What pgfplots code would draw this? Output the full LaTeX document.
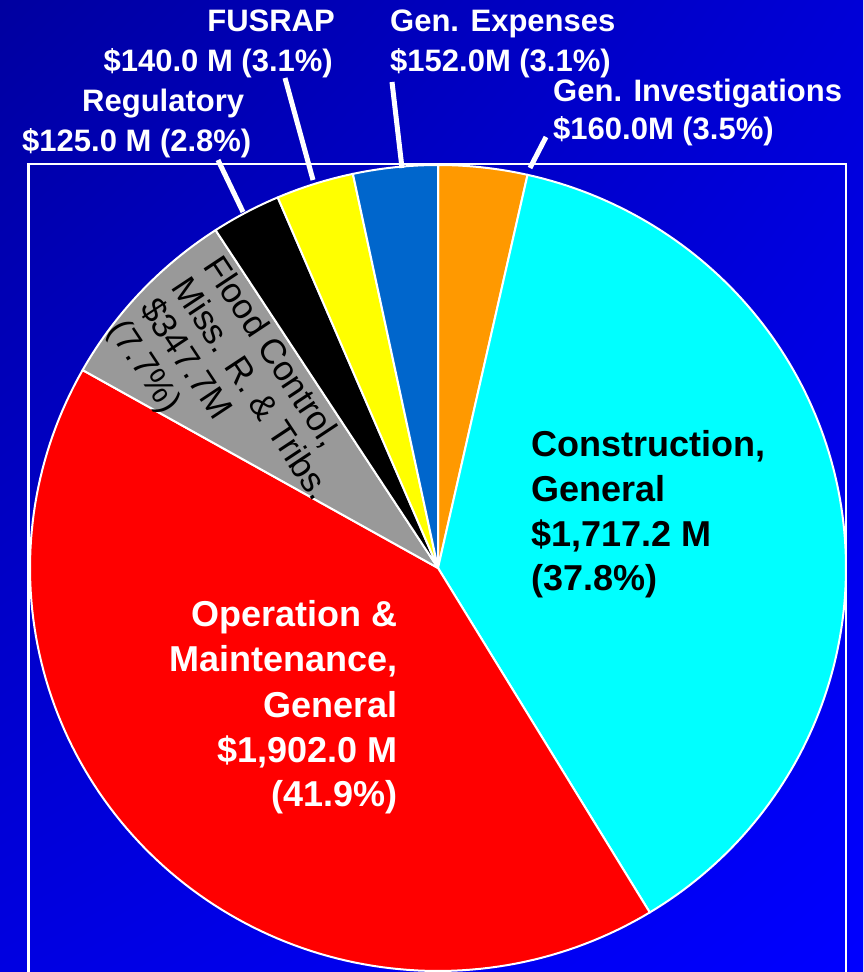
\documentclass[border=0pt]{standalone}
\usepackage{fontspec}
\setmainfont{Liberation Sans}
\usepackage{pgfplots}
\usepackage{pgfplotstable}
\usetikzlibrary{shadings}
\pgfplotsset{compat=1.18}

\definecolor{bgTL}{RGB}{0,0,160}
\definecolor{bgTR}{RGB}{0,0,215}
\definecolor{bgBL}{RGB}{0,0,225}
\definecolor{bgBR}{RGB}{0,0,255}
\definecolor{cOrange}{RGB}{255,153,0}
\definecolor{cCyan}{RGB}{0,255,255}
\definecolor{cRed}{RGB}{255,0,0}
\definecolor{cGray}{RGB}{153,153,153}
\definecolor{cBlack}{RGB}{0,0,0}
\definecolor{cYellow}{RGB}{255,255,0}
\definecolor{cBlue}{RGB}{0,102,204}

% budget items, clockwise from 12 o'clock (million $)
\pgfplotstableread{
name value
GenInvestigations 160.0
ConstructionGeneral 1717.2
OMGeneral 1902.0
FloodControl 347.7
Regulatory 125.0
FUSRAP 140.0
GenExpenses 152.0
}\piedata

\newcommand\pieslice[2]{%
  \edef\temp{\noexpand\addplot[draw=white, line width=2pt, line join=round, fill=#2,
    domain=\csname pieE#1\endcsname:\csname pieS#1\endcsname, samples=120]
    ({438+408*cos(x)},{404+403*sin(x)}) -- (axis cs:438,404) -- cycle;}\temp}

\newcommand\toplab{\fontsize{31}{37}\selectfont\bfseries}
\newcommand\pielab{\fontsize{36}{45}\selectfont\bfseries}
\newcommand\floodlab{\fontsize{35}{40}\selectfont}

\begin{document}
\begin{tikzpicture}
\pgfmathsetmacro\pietotal{0}
\pgfplotstableforeachcolumnelement{value}\of\piedata\as\v{%
  \pgfmathsetmacro\tmp{\pietotal+\v}\xdef\pietotal{\tmp}}
\xdef\pieacc{0}
\pgfplotstableforeachcolumnelement{value}\of\piedata\as\v{%
  \pgfmathsetmacro\tmpa{90-360*(\pieacc/\pietotal)}%
  \pgfmathsetmacro\tmpb{\pieacc+\v}\xdef\pieacc{\tmpb}%
  \pgfmathsetmacro\tmpc{90-360*(\pieacc/\pietotal)}%
  \expandafter\xdef\csname pieS\pgfplotstablerow\endcsname{\tmpa}%
  \expandafter\xdef\csname pieE\pgfplotstablerow\endcsname{\tmpc}}
\begin{axis}[
  scale only axis, width=863pt, height=972pt,
  xmin=0, xmax=863, ymin=0, ymax=972,
  hide axis,
]
\shade[upper left=bgTL, upper right=bgTR, lower left=bgBL, lower right=bgBR]
  (axis cs:0,0) rectangle (axis cs:863,972);
\draw[white, line width=2.5pt] (axis cs:28.5,0) -- (axis cs:28.5,808) -- (axis cs:846,808) -- (axis cs:846,0);

\pieslice{0}{cOrange}
\pieslice{1}{cCyan}
\pieslice{2}{cRed}
\pieslice{3}{cGray}
\pieslice{4}{cBlack}
\pieslice{5}{cYellow}
\pieslice{6}{cBlue}

% leader lines
\draw[white, line width=5pt] (axis cs:218,812) -- (axis cs:243,760);
\draw[white, line width=5pt] (axis cs:285,894) -- (axis cs:313,792);
\draw[white, line width=5pt] (axis cs:392,890) -- (axis cs:402,804);
\draw[white, line width=5pt] (axis cs:546,835) -- (axis cs:530,804);

% outer labels
\node[anchor=base east, text=white, inner sep=0pt, font=\toplab] at (axis cs:335,940) {FUSRAP};
\node[anchor=base east, text=white, inner sep=0pt, font=\toplab] at (axis cs:333,900) {\$140.0 M (3.1\%)};
\node[anchor=base west, text=white, inner sep=0pt, font=\toplab] at (axis cs:82,860) {Regulatory};
\node[anchor=base west, text=white, inner sep=0pt, font=\toplab] at (axis cs:22,820) {\$125.0 M (2.8\%)};
\node[anchor=base west, text=white, inner sep=0pt, font=\toplab] at (axis cs:390,940) {Gen. Expenses};
\node[anchor=base west, text=white, inner sep=0pt, font=\toplab] at (axis cs:390,900) {\$152.0M (3.1\%)};
\node[anchor=base west, text=white, inner sep=0pt, font=\toplab] at (axis cs:553,870) {Gen. Investigations};
\node[anchor=base west, text=white, inner sep=0pt, font=\toplab] at (axis cs:553,832) {\$160.0M (3.5\%)};

% construction
\node[anchor=base west, text=black, inner sep=0pt, font=\pielab] at (axis cs:531,515) {Construction,};
\node[anchor=base west, text=black, inner sep=0pt, font=\pielab] at (axis cs:531,470) {General};
\node[anchor=base west, text=black, inner sep=0pt, font=\pielab] at (axis cs:531,425) {\$1,717.2 M};
\node[anchor=base west, text=black, inner sep=0pt, font=\pielab] at (axis cs:531,381) {(37.8\%)};

% O&M
\node[anchor=base east, text=white, inner sep=0pt, font=\pielab] at (axis cs:398,345) {Operation \&};
\node[anchor=base east, text=white, inner sep=0pt, font=\pielab] at (axis cs:398,300) {Maintenance,};
\node[anchor=base east, text=white, inner sep=0pt, font=\pielab] at (axis cs:398,254) {General};
\node[anchor=base east, text=white, inner sep=0pt, font=\pielab] at (axis cs:398,209) {\$1,902.0 M};
\node[anchor=base east, text=white, inner sep=0pt, font=\pielab] at (axis cs:398,165) {(41.9\%)};

% flood control (rotated)
\node[anchor=base west, text=black, inner sep=0pt, rotate=-56.5, font=\floodlab] at (axis cs:202.5,705.7) {Flood Control,};
\node[anchor=base west, text=black, inner sep=0pt, rotate=-56.5, font=\floodlab] at (axis cs:170.8,684.7) {Miss. R. \& Tribs.};
\node[anchor=base west, text=black, inner sep=0pt, rotate=-56.5, font=\floodlab] at (axis cs:139.1,663.7) {\$347.7M};
\node[anchor=base west, text=black, inner sep=0pt, rotate=-56.5, font=\floodlab] at (axis cs:107.4,642.7) {(7.7\%)};
\end{axis}
\end{tikzpicture}
\end{document}
